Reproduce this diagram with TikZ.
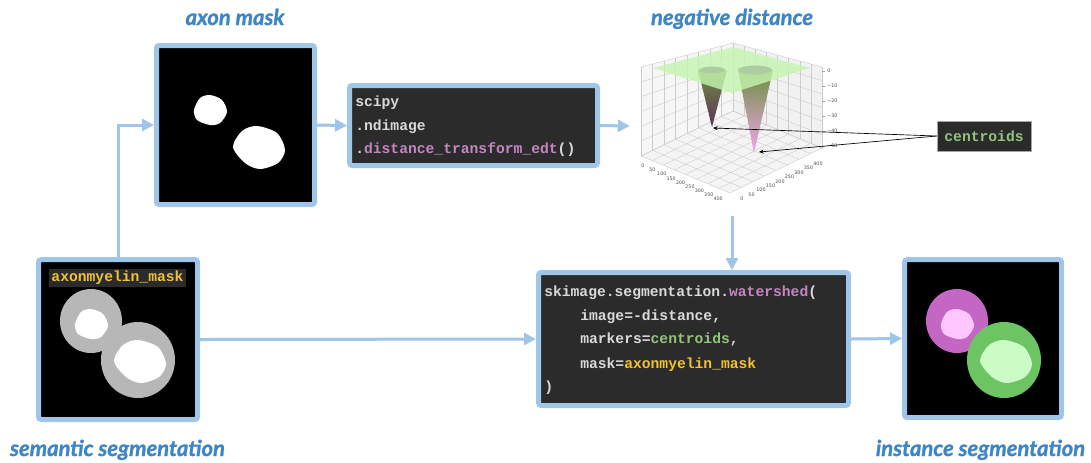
\documentclass[tikz,border=0pt]{standalone}
\usepackage{fontspec}
\setmainfont{Lato}
\newfontfamily\headfont{Lato}[BoldItalicFeatures={FakeBold=1.2}]
\newfontfamily\codefont{Liberation Mono}
\newfontfamily\tickfont{DejaVu Sans}
\usetikzlibrary{positioning,arrows.meta,calc}
\definecolor{framebl}{HTML}{9FC5E8}
\definecolor{titlebl}{HTML}{3D85C6}
\definecolor{codebg}{HTML}{2B2B2B}
\definecolor{codefg}{HTML}{D9D9D9}
\definecolor{codepk}{HTML}{C586C0}
\definecolor{codegr}{HTML}{93C47D}
\definecolor{codeye}{HTML}{F1C232}
\definecolor{myelin}{HTML}{B7B7B7}
\definecolor{instmag}{HTML}{C466C4}
\definecolor{instpk}{HTML}{FFC6FF}
\definecolor{instgr}{HTML}{6CC462}
\definecolor{instlg}{HTML}{CCFCC6}
\definecolor{planegr}{HTML}{C6F5B2}
\definecolor{wellgr}{HTML}{6E8F3C}
\definecolor{wellpk}{HTML}{F0A6F0}
\definecolor{wellpu}{HTML}{5E305E}
\tikzset{
	imgbox/.style={draw=framebl, line width=3.75pt, fill=black, rounded corners=2pt, inner sep=0pt},
	codebox/.style={imgbox, fill=codebg},
	flow/.style={draw=framebl, line width=2.25pt, -{Triangle[length=9pt,width=9pt]}},
	heading/.style={text=titlebl, font=\headfont\fontsize{16.5}{19}\selectfont\bfseries\itshape, anchor=base, inner sep=0pt},
	codeline/.style={text=codefg, font=\codefont\bfseries\fontsize{11}{13}\selectfont, anchor=base west, inner sep=0pt},
	pointer/.style={draw=black, line width=0.5pt, -{Stealth[length=3.5pt,width=3pt]}},
	ticklbl/.style={text=black!70, font=\tickfont\fontsize{3.6}{4}\selectfont, inner sep=0pt},
	gridline/.style={draw=gray!40, line width=0.3pt},
}
\begin{document}
\begin{tikzpicture}[x=0.75pt,y=-0.75pt]
			\newcommand{\pxu}{0.75pt}
			%Shapes of the two axons
			\newcommand{\coresmall}{plot[smooth cycle] coordinates {(210,95) (222,100) (227,112) (220,123) (210,125) (197,120) (194,110) (200,98)}}
			\newcommand{\corelarge}{plot[smooth cycle] coordinates {(257,126) (277,133) (285,150) (278,163) (260,169) (245,163) (233,147) (242,131)}}
			\useasboundingbox (0,0) rectangle (1091,462);
			%Frames of the images and of the code
			\node[imgbox, minimum width=158*\pxu, minimum height=159*\pxu] (axon) at (235.5,125) {};
			\node[codebox, minimum width=248*\pxu, minimum height=80*\pxu] (scipy) at (473.5,125.5) {};
			\node[imgbox, minimum width=159*\pxu, minimum height=160*\pxu] (semantic) at (118,339.5) {};
			\node[codebox, minimum width=310*\pxu, minimum height=133*\pxu] (wshed) at (693.5,339) {};
			\node[imgbox, minimum width=157*\pxu, minimum height=158*\pxu] (instance) at (983,338.5) {};
			\node[minimum width=204*\pxu, minimum height=180*\pxu, inner sep=0pt] (plot) at (732,126) {};
			%Headings
			\node[heading] (axonhead) at (235,25) {axon mask};
			\node[heading] (disthead) at (732,25) {negative distance};
			\node[heading] (semhead) at (117.5,456) {semantic segmentation};
			\node[heading] (insthead) at (980.5,456) {instance segmentation};
			%Axon mask
			\fill[white] \coresmall;
			\fill[white] \corelarge;
			%Semantic segmentation
			\fill[myelin] (91,321) ellipse [x radius=31, y radius=32];
			\fill[myelin] (138,360) ellipse [x radius=37, y radius=38];
			\fill[white, shift={(-119,214)}] \coresmall;
			\fill[white, shift={(-119,214)}] \corelarge;
			\node[fill=codebg, text=codeye, font=\codefont\bfseries\fontsize{11}{13}\selectfont, inner sep=1.5pt] (amlabel) at (117.5,278) {axonmyelin\_mask};
			%Instance segmentation
			\fill[instmag] (957,321) ellipse [x radius=31, y radius=32];
			\fill[instpk, shift={(747,214)}] \coresmall;
			\fill[instgr] (1004,360) ellipse [x radius=37, y radius=38];
			\fill[instlg, shift={(747,214)}] \corelarge;
			%Code lines
			\node[codeline] (sc1) at (355,106) {scipy};
			\node[codeline] (sc2) at (355,130) {.ndimage};
			\node[codeline] (sc3) at (355,153) {.\textcolor{codepk}{distance\_transform\_edt}()};
			\node[codeline] (ws1) at (544,296) {skimage.segmentation.\textcolor{codepk}{watershed}(};
			\node[codeline] (ws2) at (580,320) {image=-distance,};
			\node[codeline] (ws3) at (580,343) {markers=\textcolor{codegr}{centroids},};
			\node[codeline] (ws4) at (580,368) {mask=\textcolor{codeye}{axonmyelin\_mask}};
			\node[codeline] (ws5) at (544,391) {)};
			%The 3d plot: corners of the panes
			\coordinate (pLT) at (641,67);
			\coordinate (pBT) at (733,43);
			\coordinate (pRT) at (822,67);
			\coordinate (pL) at (641,156);
			\coordinate (pB) at (733,111);
			\coordinate (pR) at (822,148);
			\coordinate (pF) at (730,193);
			\fill[gray!7] (pL) -- (pLT) -- (pBT) -- (pB) -- cycle;
			\fill[gray!11] (pB) -- (pBT) -- (pRT) -- (pR) -- cycle;
			\fill[gray!9] (pL) -- (pB) -- (pR) -- (pF) -- cycle;
			\foreach \i in {0,...,8} {
				\draw[gridline] ($(pL)!\i/8!(pB)$) -- ($(pF)!\i/8!(pR)$);
				\draw[gridline] ($(pL)!\i/8!(pF)$) -- ($(pB)!\i/8!(pR)$);
				\draw[gridline] ($(pL)!\i/8!(pB)$) -- ($(pLT)!\i/8!(pBT)$);
				\draw[gridline] ($(pB)!\i/8!(pR)$) -- ($(pBT)!\i/8!(pRT)$);
			}
			\foreach \i in {0,...,6} {
				\draw[gridline] ($(pL)!\i/6!(pLT)$) -- ($(pB)!\i/6!(pBT)$);
				\draw[gridline] ($(pR)!\i/6!(pRT)$) -- ($(pB)!\i/6!(pBT)$);
			}
			%The two wells
			\shade[top color=wellgr, middle color=black!85!olive, bottom color=wellpu] (698,70) -- (712,127) -- (727,70) -- cycle;
			\shade[top color=wellgr, middle color=black!85!olive, bottom color=wellpk] (738,70) -- (754,153) -- (773,70) -- cycle;
			%Plane at zero
			\fill[planegr, opacity=0.8] (653,68) -- (733,47) -- (810,68) -- (732,93) -- cycle;
			\fill[gray!35!planegr] (712,70) ellipse [x radius=13, y radius=3.5];
			\fill[gray!35!planegr] (755,70) ellipse [x radius=17, y radius=4.5];
			\coordinate (apexA) at (713,128);
			\coordinate (apexB) at (759,152);
			%Tick labels
			\foreach \lbl [count=\k from 0] in {0,−10,−20,−30,−40,−50} {
				\draw[gray!70, line width=0.3pt] (822,71+15*\k) -- (825,71+15*\k);
				\node[ticklbl, anchor=west] at (827,71+15*\k) {\lbl};
			}
			\foreach \lbl [count=\k from 0] in {0,50,...,400} {
				\node[ticklbl] at (643+9.4*\k,166+4.1*\k) {\lbl};
				\node[ticklbl] at (742+9.5*\k,199-4.4*\k) {\lbl};
			}
			%Centroids
			\node[fill=codebg, draw=black!35, line width=0.6pt, minimum width=94*\pxu, minimum height=30*\pxu, text=codegr, font=\codefont\bfseries\fontsize{11}{13}\selectfont, inner sep=0pt] (centroids) at (984,136) {centroids};
			\draw[pointer] (centroids.west) -- (apexA);
			\draw[pointer] (centroids.west) -- (apexB);
			%Arrows
			\draw[flow] (semantic.north) |- (axon.west);
			\draw[flow] (axon.east) -- (scipy.west);
			\draw[flow] (scipy.east) -- (plot.west);
			\draw[flow] (plot.south) -- (plot.south |- wshed.north);
			\draw[flow] (semantic.east) -- (wshed.west);
			\draw[flow] (wshed.east) -- (instance.west);
\end{tikzpicture}
\end{document}
